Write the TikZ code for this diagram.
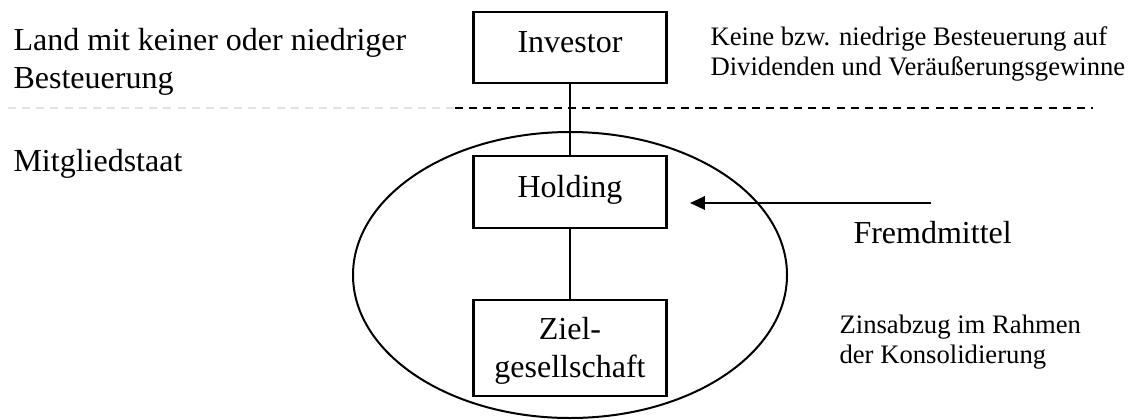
\documentclass[tikz,border=0pt]{standalone}
\usepackage{fontspec}
\setmainfont{Liberation Serif}
\usetikzlibrary{arrows.meta,positioning}
\definecolor{faint}{HTML}{E2E2E2}

\tikzset{
  entity/.style={draw, line width=0.8pt, minimum width=72.4pt, inner sep=0pt,
    align=center, font=\fontsize{12}{14}\selectfont},
  sidetext/.style={anchor=base west, inner sep=0pt, align=left,
    font=\fontsize{12}{14}\selectfont},
  note/.style={anchor=base west, inner sep=0pt, align=left,
    font=\fontsize{10}{11.25}\selectfont},
  border/.style={dash pattern=on 3pt off 2.3pt, line width=0.6pt},
  link/.style={line width=0.7pt}
}

\begin{document}
\begin{tikzpicture}[x=0.375pt, y=-0.375pt]
\useasboundingbox (0,0) rectangle (1131,419);

% ---------- the two countries
\node[sidetext] (land) at (13,88.3) {Land mit keiner oder niedriger\\Besteuerung};
\node[sidetext] (mitglied) at (13,171.7) {Mitgliedstaat};
\draw[border, faint] (8,108) -- (455,108);
\draw[border] (455,108) -- (1093,108);

% ---------- group of investor, holding and target
\draw[line width=0.75pt] (570,275) ellipse [x radius=217, y radius=143];
\node[entity, minimum height=26.6pt, text height=8.3pt, text depth=4.2pt]
  (investor) at (570,47.5) {Investor};
\node[entity, minimum height=27pt, text height=8.3pt, text depth=4.2pt]
  (holding) at (570,192) {Holding};
\node[entity, minimum height=36pt, text height=24.4pt, text depth=2.6pt]
  (ziel) at (570,348) {Ziel-\\gesellschaft};
\draw[link] (investor) -- (holding);
\draw[link] (holding) -- (ziel);

% ---------- borrowed money
\coordinate (lender) at (931,203);
\coordinate (kink) at (834,203);
\coordinate (tip) at (690,203);
\draw[line width=0.45pt] (lender) -- (kink);
\draw[link, line width=0.85pt, -{Triangle[length=5.6pt,width=5pt]}] (kink) -- (tip);

% ---------- notes
\node[sidetext] (fremd) at (853,243) {Fremdmittel};
\node[note] (steuer) at (710,75) {Keine bzw. niedrige Besteuerung auf\\Dividenden und Veräußerungsgewinne};
\node[note] (zins) at (839,363) {Zinsabzug im Rahmen\\der Konsolidierung};
\end{tikzpicture}
\end{document}
